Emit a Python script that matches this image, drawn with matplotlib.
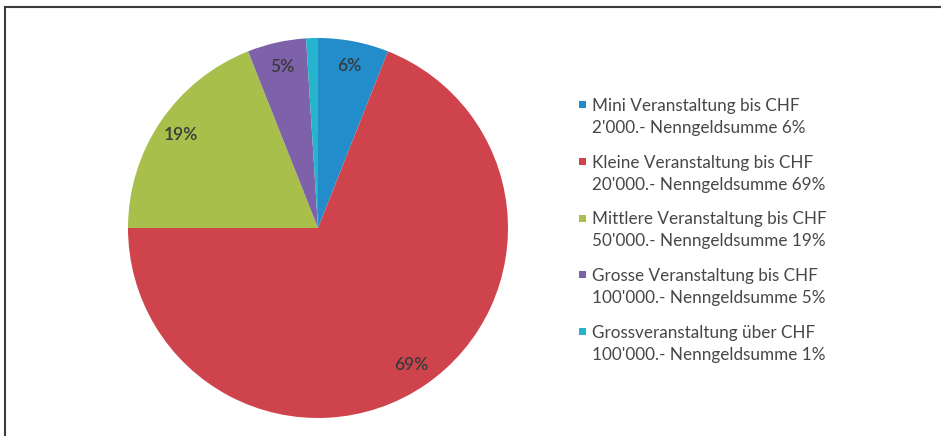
import matplotlib
matplotlib.use("Agg")
import matplotlib.pyplot as plt
from matplotlib.lines import Line2D

categories = [
    "Mini Veranstaltung bis CHF\n2'000.- Nenngeldsumme 6%",
    "Kleine Veranstaltung bis CHF\n20'000.- Nenngeldsumme 69%",
    "Mittlere Veranstaltung bis CHF\n50'000.- Nenngeldsumme 19%",
    "Grosse Veranstaltung bis CHF\n100'000.- Nenngeldsumme 5%",
    "Grossveranstaltung über CHF\n100'000.- Nenngeldsumme 1%",
]
values = [6, 69, 19, 5, 1]
pct_labels = ["6%", "69%", "19%", "5%", ""]
colors = ["#238ccb", "#cf444c", "#a9bf4c", "#7d62a9", "#26b3cc"]

plt.rcParams['font.family'] = ['Lato', 'DejaVu Sans']

fig = plt.figure(figsize=(9.41, 4.36), dpi=100)
fig.patch.set_facecolor("white")

# frame lines (top and left)
fig.add_artist(Line2D([4.5/941, 1.0], [1 - 7.5/436, 1 - 7.5/436], transform=fig.transFigure,
                      color="#3c3c3c", lw=1.5))
fig.add_artist(Line2D([4.5/941, 4.5/941], [0, 1 - 7.5/436], transform=fig.transFigure,
                      color="#3c3c3c", lw=1.5))

cx, cy, r = 318, 228, 190
W, H = 941, 436
ax = fig.add_axes([(cx - r)/W, 1 - (cy + r)/H, 2*r/W, 2*r/H])
wedges, texts = ax.pie(values, colors=colors, startangle=90, counterclock=False,
                       labels=pct_labels, labeldistance=0.87,
                       wedgeprops=dict(linewidth=0),
                       textprops=dict(fontsize=12.5, fontweight="semibold",
                                      color="#3a3a3a", ha="center", va="center"))
for t in texts:
    t.set_horizontalalignment("center")
ax.set_xlim(-1, 1)
ax.set_ylim(-1, 1)
ax.set_aspect("equal")
ax.axis("off")

leg = fig.legend(wedges, categories, loc="upper left",
                 bbox_to_anchor=(579/W, 1 - 98/H), frameon=False,
                 fontsize=12.35, labelcolor="#474747",
                 handlelength=0.4, handleheight=0.4, handletextpad=0.35,
                 labelspacing=1.08, borderaxespad=0, borderpad=0)
for t in leg.get_texts():
    t.set_linespacing(1.47)
for h in leg.legend_handles:
    h.set_height(5)
    h.set_width(5)
    h.set_y(11)

fig.savefig("out.png", dpi=100, facecolor="white")
